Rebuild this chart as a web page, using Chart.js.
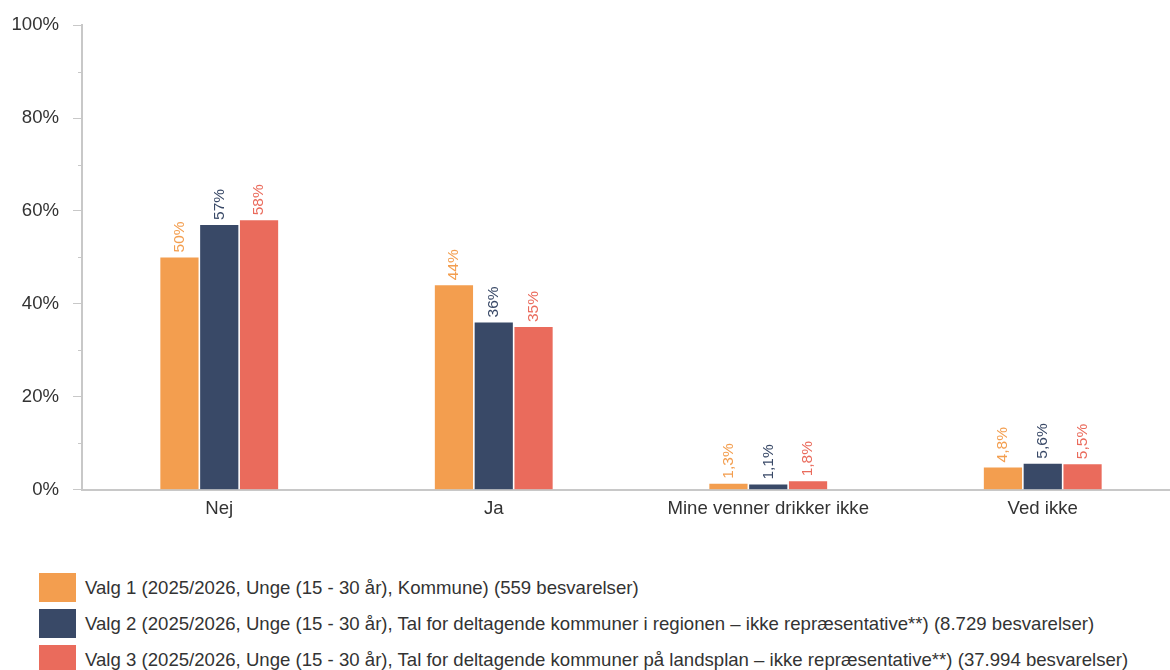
<!DOCTYPE html>
<html>
<head>
<meta charset="utf-8">
<script src="https://cdn.jsdelivr.net/npm/chart.js@4.4.1/dist/chart.umd.min.js"></script>
<style>
    body { margin: 0; background: #fff; overflow: hidden; font-family: "Liberation Sans", Arial, sans-serif; }
    #wrap { position: relative; width: 1180px; height: 528px; }
    #legend { position: absolute; left: 39px; top: 573px; }
    .item { display: flex; align-items: center; height: 29px; margin-bottom: 7px; color: #333; font-size: 18.6px; white-space: nowrap; }
    .box { width: 37px; height: 29px; margin-right: 9px; }
</style>
</head>
<body>
<div id="wrap"><canvas id="myChart"></canvas></div>
<div id="legend"></div>
<script>
// categories and series
var categories = ['Nej', 'Ja', 'Mine venner drikker ikke', 'Ved ikke'];
var valg1 = [50, 44, 1.3, 4.8];
var valg2 = [57, 36, 1.1, 5.6];
var valg3 = [58, 35, 1.8, 5.5];
var seriesNames = [
    'Valg 1 (2025/2026, Unge (15 - 30 år), Kommune) (559 besvarelser)',
    'Valg 2 (2025/2026, Unge (15 - 30 år), Tal for deltagende kommuner i regionen – ikke repræsentative**) (8.729 besvarelser)',
    'Valg 3 (2025/2026, Unge (15 - 30 år), Tal for deltagende kommuner på landsplan – ikke repræsentative**) (37.994 besvarelser)'
];
var colors = ['#F39E4F', '#394967', '#EA6B5C'];
var yTicks = [0, 20, 40, 60, 80, 100];
var yMinorTicks = [10, 30, 50, 70, 90];

var fontFamily = '"Liberation Sans", Arial, sans-serif';

// 50 => "50%", 1.3 => "1,3%"
function formatValue(v) {
    if (v >= 10) return Math.round(v) + '%';
    return v.toFixed(1).replace('.', ',') + '%';
}

// rotated value labels above bars
var barLabels = {
    id: 'barLabels',
    afterDatasetsDraw: function (chart) {
        var ctx = chart.ctx;
        chart.data.datasets.forEach(function (ds, i) {
            var meta = chart.getDatasetMeta(i);
            meta.data.forEach(function (bar, j) {
                ctx.save();
                ctx.translate(bar.x, bar.y - 5);
                ctx.rotate(-Math.PI / 2);
                ctx.font = '15.5px ' + fontFamily;
                ctx.fillStyle = ds.backgroundColor;
                ctx.textAlign = 'left';
                ctx.textBaseline = 'middle';
                ctx.fillText(formatValue(ds.data[j]), 0, 0);
                ctx.restore();
            });
        });
    }
};

// short ticks between the labelled ones
var minorTicks = {
    id: 'minorTicks',
    afterDraw: function (chart) {
        var ctx = chart.ctx;
        var y = chart.scales.y;
        ctx.save();
        ctx.strokeStyle = '#c8c8c8';
        ctx.lineWidth = 1;
        yMinorTicks.forEach(function (v) {
            var py = Math.round(y.getPixelForValue(v)) + 0.5;
            ctx.beginPath();
            ctx.moveTo(y.right - 4, py);
            ctx.lineTo(y.right, py);
            ctx.stroke();
        });
        ctx.restore();
    }
};

var datasets = [valg1, valg2, valg3].map(function (d, i) {
    return {
        label: seriesNames[i],
        data: d,
        backgroundColor: colors[i],
        categoryPercentage: 0.435,
        barPercentage: 0.96
    };
});

var ctx = document.getElementById('myChart').getContext('2d');
var myChart = new Chart(ctx, {
    type: 'bar',
    data: { labels: categories, datasets: datasets },
    plugins: [barLabels, minorTicks],
    options: {
        responsive: true,
        maintainAspectRatio: false,
        animation: false,
        layout: { padding: { top: 23, right: 0, bottom: 0, left: 0 } },
        plugins: {
            legend: { display: false },
            tooltip: { enabled: false }
        },
        scales: {
            x: {
                grid: { display: false, drawTicks: false },
                border: { color: '#c8c8c8', width: 2 },
                ticks: { color: '#333', padding: 8, font: { size: 18.6, family: fontFamily } }
            },
            y: {
                min: 0,
                max: 100,
                afterBuildTicks: function (scale) {
                    scale.ticks = yTicks.map(function (v) { return { value: v }; });
                },
                afterFit: function (scale) { scale.width = 82; },
                grid: { drawOnChartArea: false, tickLength: 9, tickColor: '#c8c8c8' },
                border: { color: '#c8c8c8', width: 2 },
                ticks: {
                    color: '#333',
                    padding: 14,
                    font: { size: 18.6, family: fontFamily },
                    callback: function (v) { return v + '%'; }
                }
            }
        }
    }
});

// legend built from the same arrays
var legend = document.getElementById('legend');
seriesNames.forEach(function (name, i) {
    var row = document.createElement('div');
    row.className = 'item';
    row.innerHTML = '<div class="box" style="background:' + colors[i] + '"></div><span>' + name + '</span>';
    legend.appendChild(row);
});
</script>
</body>
</html>
